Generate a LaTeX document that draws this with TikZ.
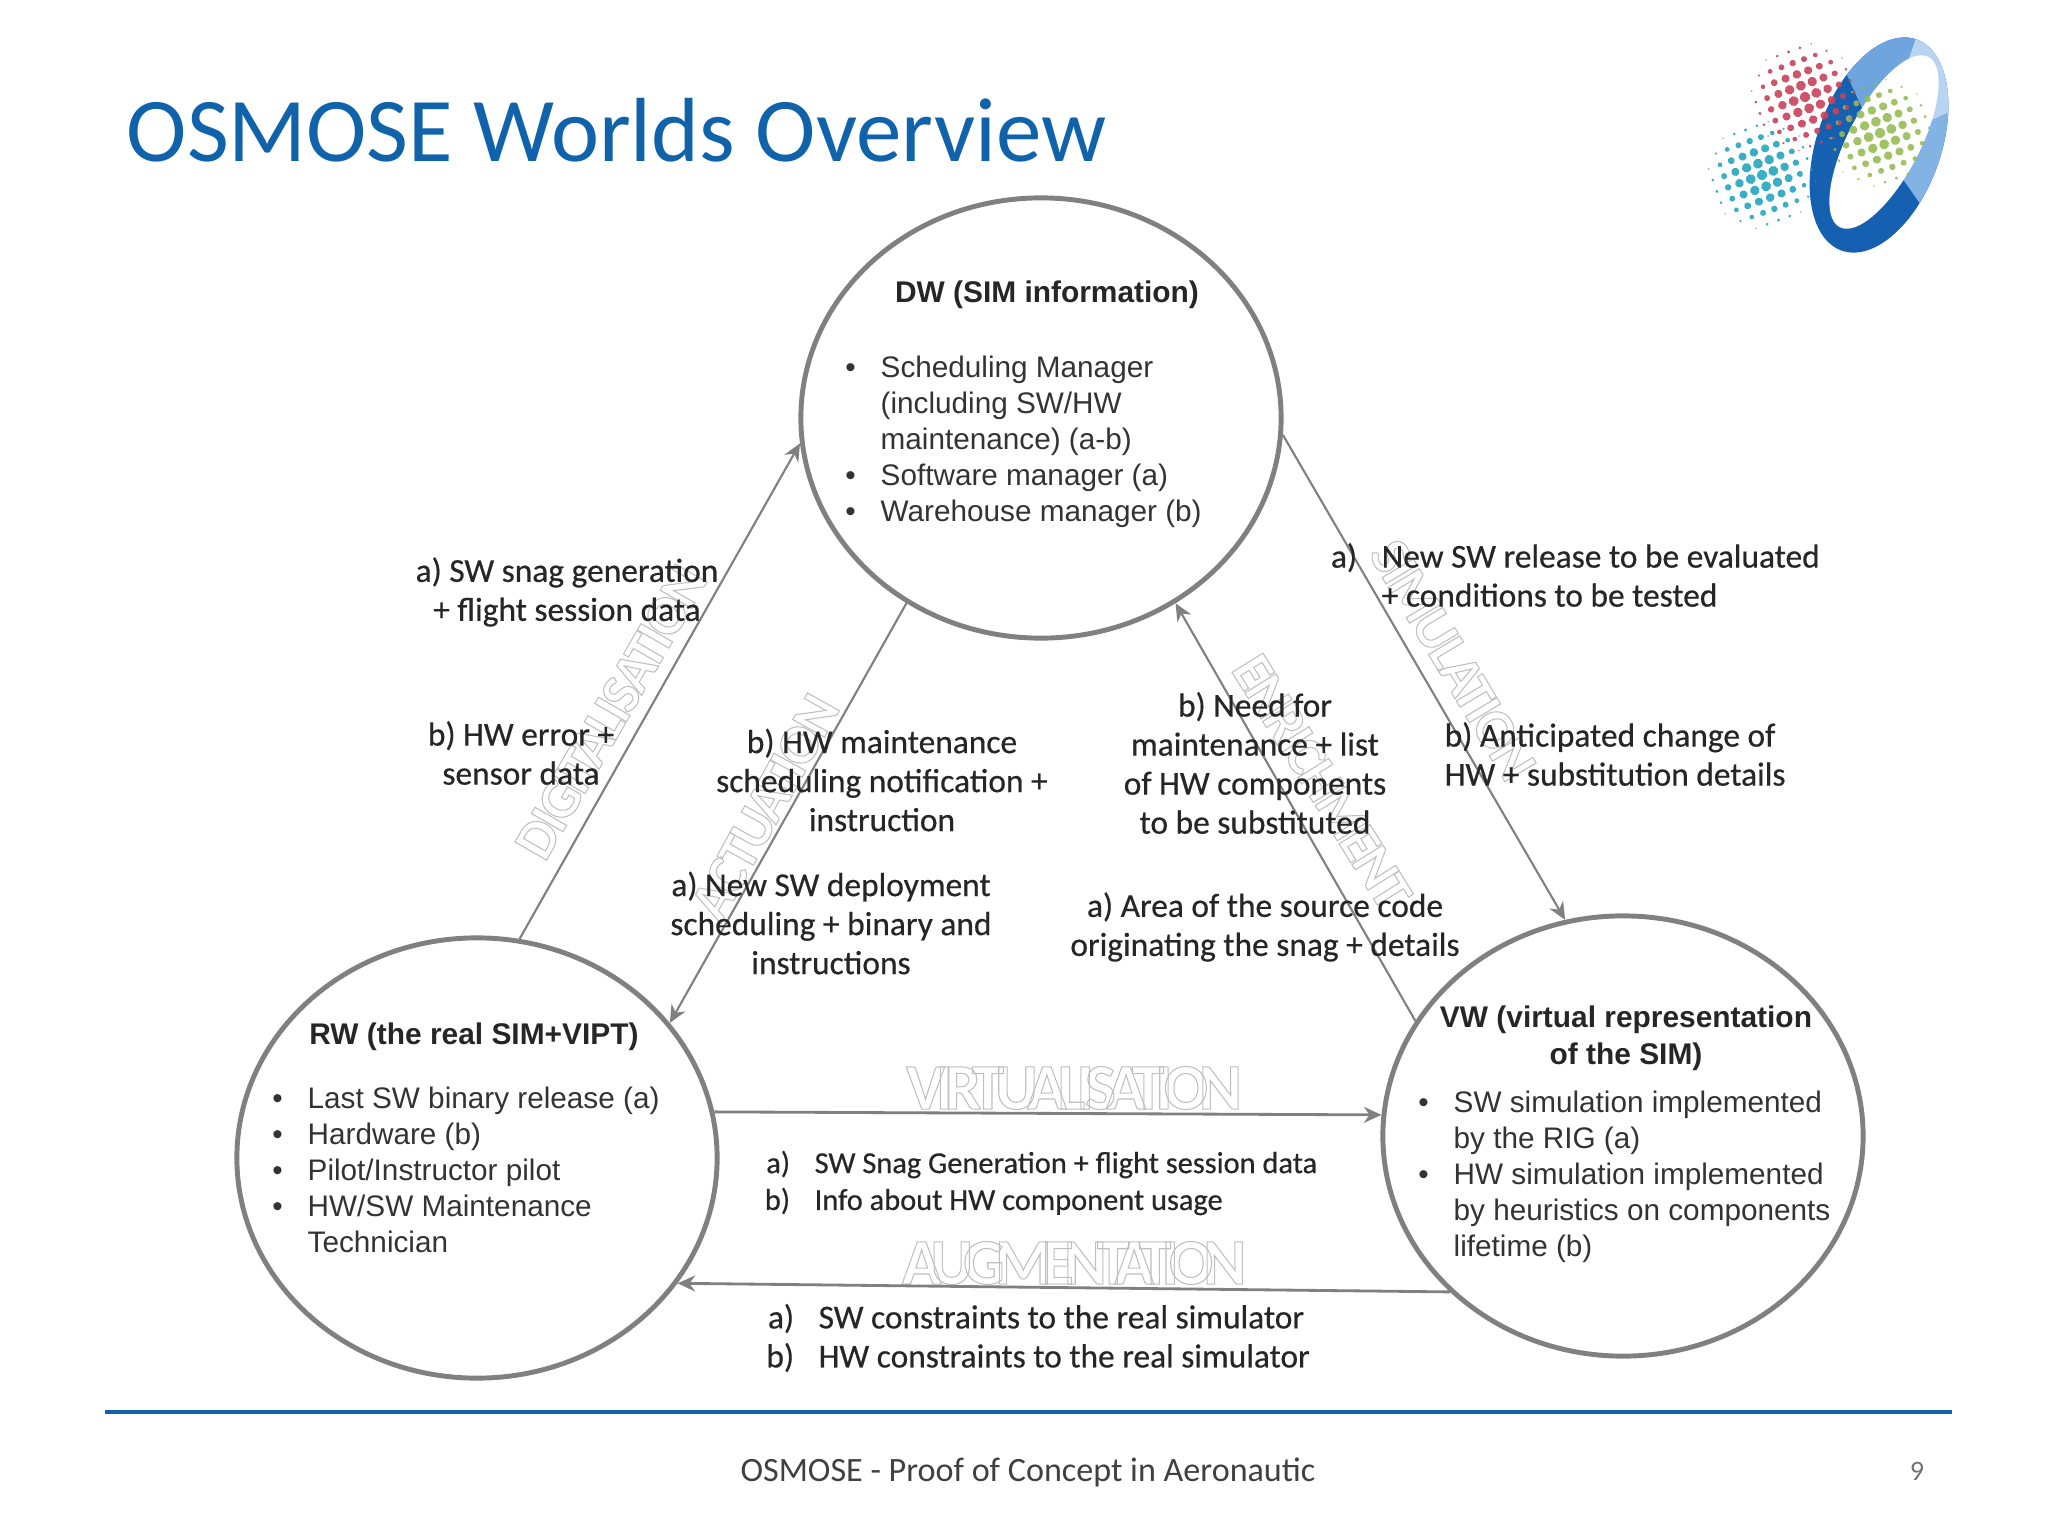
\documentclass[tikz,border=0pt]{standalone}
\usepackage{fontspec}
\usetikzlibrary{arrows.meta,shapes.geometric}
\setmainfont{Carlito}
\newfontfamily\circfont{Liberation Sans}
\newfontfamily\labfont[FakeBold=0.5]{Carlito}
\newfontfamily\wmwide[LetterSpace=-13.5]{Carlito}
\newfontfamily\wmaug[LetterSpace=-15]{Carlito}
\newfontfamily\wmdiag[LetterSpace=-6]{Carlito}
\definecolor{osblue}{HTML}{1063AB}
\definecolor{wline}{HTML}{808080}
\definecolor{ringdark}{HTML}{1560B0}
\definecolor{ringmid}{HTML}{6FA5DE}
\definecolor{ringpale}{HTML}{B9D4F0}
\definecolor{ringlite}{HTML}{82B3E4}
\definecolor{dotred}{HTML}{C8435A}
\definecolor{dotteal}{HTML}{25A5BE}
\definecolor{dotgreen}{HTML}{97BD55}
\newcommand{\bul}{\leavevmode\llap{\textbullet\hspace{2.5mm}}}
\newcommand{\tag}[1]{\leavevmode\llap{#1\hspace{7pt}}}
\newcommand{\wmtext}[1]{\special{pdf:code 1 Tr 0.3 w 0.75 G}#1\special{pdf:code 0 Tr 0.4 w 0 G}}
\newcommand{\dotcluster}[3]{%
  \begin{scope}[shift={(#1,#2)},rotate=20]
    \foreach \i in {-4,...,4}
      \foreach \j in {-4,...,4}{
        \pgfmathsetmacro{\dotrad}{max(0,5.2-0.22*(\i*\i+\j*\j))}
        \ifdim\dotrad pt>0.4pt
          \fill[#3] (\i*12,\j*12) circle[radius=\dotrad];
        \fi
      }
  \end{scope}}

\begin{document}
\begin{tikzpicture}[x=0.01cm,y=-0.01cm,
    world/.style={ellipse,draw=wline,line width=1.4pt,inner sep=0pt,minimum width=4.8cm,minimum height=4.4cm},
    arj/.style={draw=wline,line width=0.6pt,-{Stealth[length=5pt,width=4.5pt]}},
    arh/.style={arj,line width=0.8pt},
    lab/.style={align=center,inner sep=0pt,font=\labfont\fontsize{9.5}{11.1}\selectfont,text=black!85},
    lableft/.style={lab,align=left,anchor=west},
    lst/.style={align=left,anchor=north west,inner sep=0pt,font=\circfont\fontsize{8.45}{10.25}\selectfont,text=black!80},
    hdr/.style={align=center,inner sep=0pt,font=\circfont\bfseries\fontsize{8.5}{10.5}\selectfont,text=black!85},
    wmh/.style={font=\wmwide\bfseries\fontsize{18.5}{18.5}\selectfont,inner sep=0pt},
    wmd/.style={font=\wmdiag\bfseries\fontsize{16}{16}\selectfont,inner sep=0pt},
  ]
\useasboundingbox (0,0) rectangle (2048,1536);
\node[anchor=west,inner sep=0pt,text=osblue,font=\fontsize{25.9}{26}\selectfont] (title) at (126,130) {OSMOSE Worlds Overview};

% logo
\begin{scope}
  \begin{scope}
    \clip[shift={(1879,145)},rotate=70.5] (0,0) ellipse[x radius=112,y radius=62];
    \fill[ringdark] (1780,20) rectangle (1970,260);
    \fill[ringmid] (1879,145) -- (1824,25) -- (1864,0) -- (1929,0) -- cycle;
    \fill[ringpale] (1879,145) -- (1929,0) -- (2004,0) -- (2029,75) -- cycle;
    \fill[ringlite] (1879,145) -- (2029,75) -- (2004,300) -- (1949,245) -- cycle;
  \end{scope}
  \fill[white,shift={(1884,142)},rotate=62.5] (0,0) ellipse[x radius=96,y radius=36];
  \dotcluster{1880}{133}{dotgreen,opacity=.9}
  \dotcluster{1762}{175}{dotteal,opacity=.9}
  \dotcluster{1805}{97}{dotred,opacity=.9}
\end{scope}

% flow names
\node[wmh] (virt) at (1074,1088) {\wmtext{VIRTUALISATION}};
\node[wmh,font=\wmaug\bfseries\fontsize{18.5}{18.5}\selectfont] (augm) at (1074,1263) {\wmtext{AUGMENTATION}};
\node[wmd,rotate=60] (digi) at (611,712) {\wmtext{DIGITALISATION}};
\node[wmd,rotate=61] (actu) at (765,807) {\wmtext{ACTUATION}};
\node[wmd,rotate=-58] (enri) at (1322,782) {\wmtext{ENRICHMENT}};
\node[wmd,rotate=-59] (simu) at (1453,660) {\wmtext{SIMULATION}};

\node[world] (dw) at (1041,418) {};
\node[world] (rw) at (477,1158) {};
\node[world] (vw) at (1623,1136) {};

\draw[arj] (rw.79.9) -- (dw.186.2);
\draw[arj] (dw.234.6) -- (rw.35);
\draw[arj] (vw.151.6) -- (dw.-54.8);
\draw[arj] (dw.-4.5) -- (vw.105);
\draw[arh] (rw.11.3) -- (vw.175);
\draw[arh] (vw.222) -- (rw.-32.5);

\node[hdr] (dwhead) at (1047,295) {DW (SIM information)};
\node[lst] (dwlist) at (880,355) {\bul Scheduling Manager\\(including SW/HW\\maintenance) (a-b)\\\bul Software manager (a)\\\bul Warehouse manager (b)};
\node[hdr] (rwhead) at (474,1037) {RW (the real SIM+VIPT)};
\node[lst] (rwlist) at (307,1086) {\bul Last SW binary release (a)\\\bul Hardware (b)\\\bul Pilot/Instructor pilot\\\bul HW/SW Maintenance\\Technician};
\node[hdr] (vwhead) at (1626,1038) {VW (virtual representation\\of the SIM)};
\node[lst] (vwlist) at (1453,1090) {\bul SW simulation implemented\\by the RIG (a)\\\bul HW simulation implemented\\by heuristics on components\\lifetime (b)};

\node[lab] (snag) at (567,592) {a) SW snag generation\\+ flight session data};
\node[lab] (herr) at (521,753) {b) HW error +\\sensor data};
\node[lab] (hmnt) at (882,780) {b) HW maintenance\\scheduling notification +\\instruction};
\node[lab] (depl) at (831,923) {a) New SW deployment\\scheduling + binary and\\instructions};
\node[lab] (need) at (1255,763) {b) Need for\\maintenance + list\\of HW components\\to be substituted};
\node[lab] (area) at (1265,927) {a) Area of the source code\\originating the snag + details};
\node[lableft] (rels) at (1381,575) {\tag{a)}New SW release to be evaluated\\+ conditions to be tested};
\node[lableft] (antc) at (1444,754) {b) Anticipated change of\\HW + substitution details};
\node[lableft,font=\labfont\fontsize{8.65}{10.5}\selectfont] (usag) at (814,1183) {\tag{a)}SW Snag Generation + flight session data\\\tag{b)}Info about HW component usage};
\node[lableft] (cons) at (818,1338) {\tag{a)}SW constraints to the real simulator\\\tag{b)}HW constraints to the real simulator};

\draw[osblue,line width=1.4pt] (105,1412) -- (1952,1412);
\node[inner sep=0pt,text=black!75,font=\fontsize{9.7}{11}\selectfont] (foot) at (1028,1472) {OSMOSE - Proof of Concept in Aeronautic};
\node[inner sep=0pt,text=black!55,font=\fontsize{8}{10}\selectfont] (page) at (1917,1471) {9};
\end{tikzpicture}
\end{document}
